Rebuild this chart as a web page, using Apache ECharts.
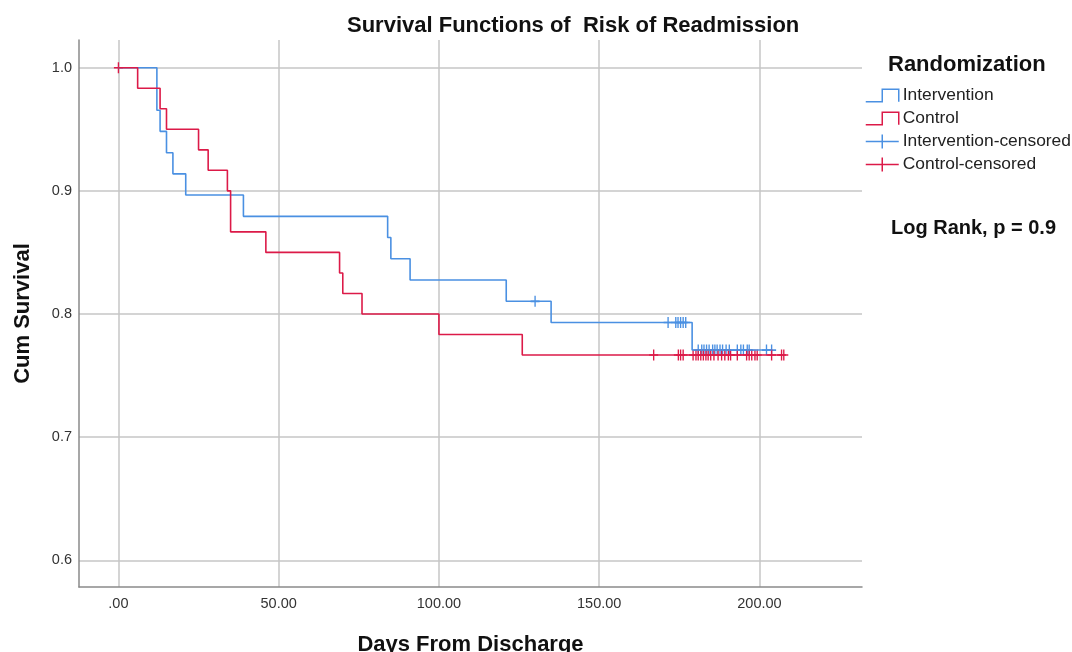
<!DOCTYPE html>
<html>
<head>
<meta charset="utf-8">
<script src="https://cdn.jsdelivr.net/npm/echarts@6/dist/echarts.min.js"></script>
<style>html,body{margin:0;padding:0;background:#fff;}#c{width:1072px;height:652px;}</style>
</head>
<body>
<div id="c"></div>
<script>
// Intervention: event times (days) and cumulative survival after each event
var intTimes = [0, 12, 13, 15, 17, 21, 39, 84, 85, 91, 121, 135, 179];
var intSurv  = [1.0, 0.9655, 0.9483, 0.9310, 0.9138, 0.8966, 0.8793, 0.8621, 0.8448, 0.8276, 0.8103, 0.7931, 0.7707];
// Intervention censored times and survival at those times
var intCensTimes = [130, 171.5, 173.9, 174.6, 175.4, 176.2, 177,
  180.9, 182, 182.7, 183.5, 184.3, 185.4, 186.1, 186.8, 187.7, 188.5, 189.6, 190.6, 193.1, 194.2, 195, 196.2, 196.8, 202.2, 203.8];
var intCensSurv  = [0.8103, 0.7931, 0.7931, 0.7931, 0.7931, 0.7931, 0.7931,
  0.7707, 0.7707, 0.7707, 0.7707, 0.7707, 0.7707, 0.7707, 0.7707, 0.7707, 0.7707, 0.7707, 0.7707, 0.7707, 0.7707, 0.7707, 0.7707, 0.7707, 0.7707, 0.7707];

// Control: event times and survival
var ctlTimes = [0, 6, 13, 15, 25, 28, 34, 35, 46, 69, 70, 76, 100, 126];
var ctlSurv  = [1.0, 0.9833, 0.9667, 0.95, 0.9333, 0.9167, 0.9, 0.8667, 0.85, 0.8333, 0.8167, 0.8, 0.7833, 0.7667];
// Control censored
var ctlCensTimes = [0, 167, 174.7, 175.4, 176.2, 179.3, 180.2, 180.9, 181.7, 182.5, 183.3, 184, 184.8, 185.8, 187.1, 188.2, 189.2, 190.3, 191, 193.1, 196, 196.8, 197.6, 198.6, 199.3, 203.8, 206.9, 207.6];
var ctlCensSurv  = [1.0, 0.7667, 0.7667, 0.7667, 0.7667, 0.7667, 0.7667, 0.7667, 0.7667, 0.7667, 0.7667, 0.7667, 0.7667, 0.7667, 0.7667, 0.7667, 0.7667, 0.7667, 0.7667, 0.7667, 0.7667, 0.7667, 0.7667, 0.7667, 0.7667, 0.7667, 0.7667, 0.7667];

var xTickLabels = ['.00', '50.00', '100.00', '150.00', '200.00'];
var seriesNames = ['Intervention', 'Control', 'Intervention-censored', 'Control-censored'];

var BLUE = '#4a90e2', RED = '#dc1a48';
var FONT = '"Liberation Sans", Arial, sans-serif';

function steps(times, surv, censT) {
  var d = times.map(function (t, i) { return [t, surv[i]]; });
  var lastC = Math.max.apply(null, censT);
  if (lastC > times[times.length - 1]) d.push([lastC, surv[surv.length - 1]]);
  return d;
}
function pts(times, surv) { return times.map(function (t, i) { return [t, surv[i]]; }); }

var PLUS = 'path://M5,0 L5,10 M0,5 L10,5';
var STEP_ICON = 'path://M0,13 L16,13 L16,1 L32,1 L32,13';
var PLUS_ICON = 'path://M0,7 L33,7 M16.5,0 L16.5,14';

var chart = echarts.init(document.getElementById('c'), null, { renderer: 'canvas' });
chart.setOption({
  animation: false,
  backgroundColor: '#fff',
  textStyle: { fontFamily: FONT },
  title: [
    { text: 'Survival Functions of  Risk of Readmission', left: 347, top: 15, padding: 0,
      textStyle: { fontFamily: FONT, fontSize: 22, fontWeight: 'bold', color: '#111' } },
    { text: 'Randomization', left: 888, top: 54, padding: 0,
      textStyle: { fontFamily: FONT, fontSize: 22, fontWeight: 'bold', color: '#111' } },
    { text: 'Log Rank, p = 0.9', left: 891, top: 218, padding: 0,
      textStyle: { fontFamily: FONT, fontSize: 20, fontWeight: 'bold', color: '#111' } }
  ],
  legend: {
    orient: 'vertical', left: 865, top: 87, itemWidth: 33, itemHeight: 14, itemGap: 6,
    padding: 0,
    textStyle: { fontFamily: FONT, fontSize: 17.4, color: '#222', lineHeight: 17, padding: [0, 0, 0, -1] },
    data: [
      { name: seriesNames[0], icon: STEP_ICON, itemStyle: { color: 'transparent', borderColor: BLUE, borderWidth: 1.5 } },
      { name: seriesNames[1], icon: STEP_ICON, itemStyle: { color: 'transparent', borderColor: RED, borderWidth: 1.5 } },
      { name: seriesNames[2], icon: PLUS_ICON, itemStyle: { color: 'transparent', borderColor: BLUE, borderWidth: 1.5 } },
      { name: seriesNames[3], icon: PLUS_ICON, itemStyle: { color: 'transparent', borderColor: RED, borderWidth: 1.5 } }
    ]
  },
  grid: { left: 79, right: 210, top: 40, bottom: 65, containLabel: false, outerBoundsMode: 'none' },
  xAxis: {
    type: 'value', min: -12.3, max: 232,
    name: 'Days From Discharge', nameLocation: 'middle', nameGap: 47,
    nameTextStyle: { fontFamily: FONT, fontSize: 22, fontWeight: 'bold', color: '#111' },
    axisLine: { show: true, onZero: false, lineStyle: { color: '#8a8a8a', width: 1.5 } },
    axisTick: { show: false },
    axisLabel: { showMinLabel: false, showMaxLabel: false, margin: 9,
      fontFamily: FONT, fontSize: 14.5, color: '#333',
      formatter: function (v) { var i = xTickLabels.indexOf(v === 0 ? '.00' : v.toFixed(2)); return i >= 0 ? xTickLabels[i] : ''; } },
    splitLine: { show: true, showMinLine: false, showMaxLine: false, lineStyle: { color: '#c6c6c6', width: 1.5 } }
  },
  yAxis: {
    type: 'value', min: 0.5783, max: 1.0225,
    name: 'Cum Survival', nameLocation: 'middle', nameGap: 45,
    nameTextStyle: { fontFamily: FONT, fontSize: 22, fontWeight: 'bold', color: '#111' },
    axisLine: { show: true, onZero: false, lineStyle: { color: '#8a8a8a', width: 1.5 } },
    axisTick: { show: false },
    axisLabel: { showMinLabel: false, showMaxLabel: false, margin: 7,
      fontFamily: FONT, fontSize: 14.5, color: '#333',
      formatter: function (v) { return v.toFixed(1); } },
    splitLine: { show: true, showMinLine: false, showMaxLine: false, lineStyle: { color: '#c6c6c6', width: 1.5 } }
  },
  series: [
    { name: seriesNames[0], type: 'line', step: 'end', data: steps(intTimes, intSurv, intCensTimes),
      showSymbol: false, symbol: 'none', lineStyle: { color: BLUE, width: 1.6 }, itemStyle: { color: BLUE } },
    { name: seriesNames[1], type: 'line', step: 'end', data: steps(ctlTimes, ctlSurv, ctlCensTimes),
      showSymbol: false, symbol: 'none', lineStyle: { color: RED, width: 1.6 }, itemStyle: { color: RED } },
    { name: seriesNames[2], type: 'scatter', data: pts(intCensTimes, intCensSurv),
      symbol: PLUS, symbolSize: [9, 11], itemStyle: { color: 'transparent', borderColor: BLUE, borderWidth: 1.5, opacity: 1 } },
    { name: seriesNames[3], type: 'scatter', data: pts(ctlCensTimes, ctlCensSurv),
      symbol: PLUS, symbolSize: [9, 11], itemStyle: { color: 'transparent', borderColor: RED, borderWidth: 1.5, opacity: 1 } }
  ]
});
</script>
</body>
</html>
